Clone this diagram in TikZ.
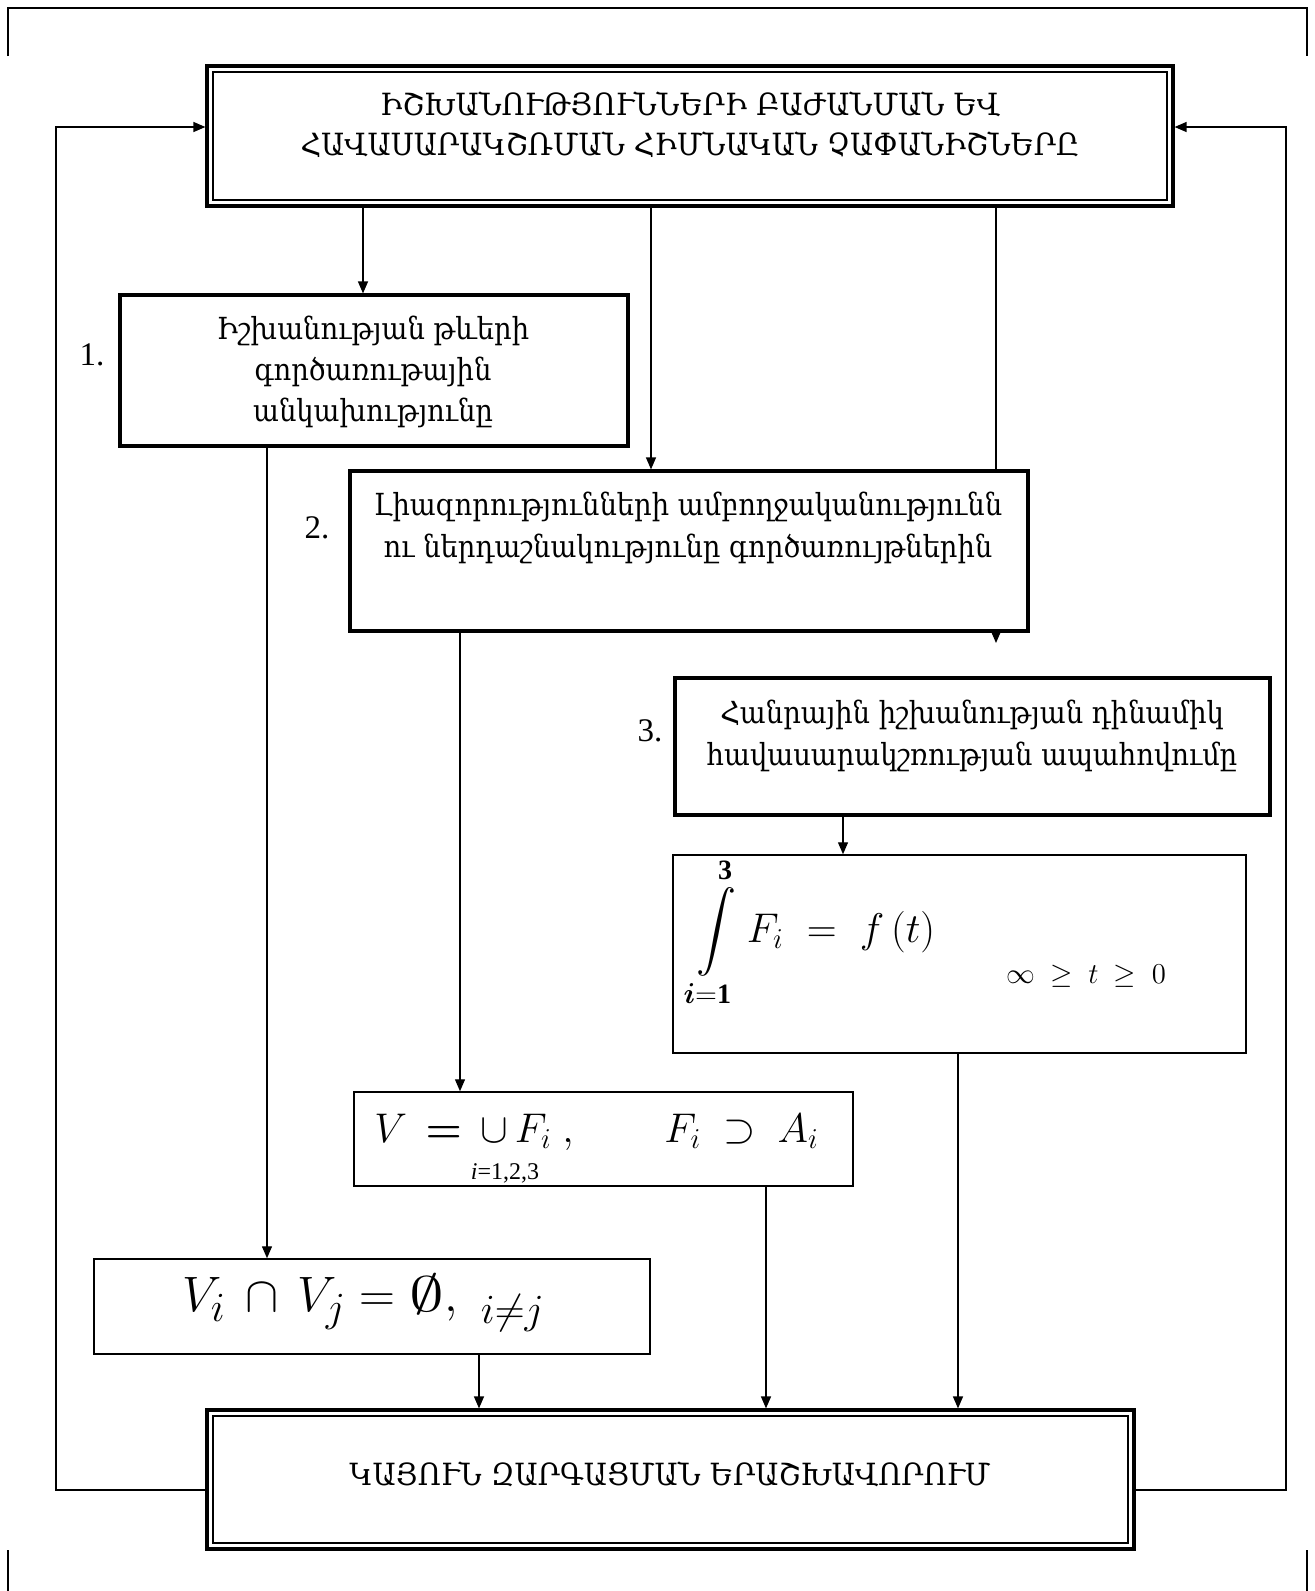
\documentclass[tikz,border=0pt]{standalone}
\usepackage{graphicx}
\usepackage{amsmath,amssymb}
\usepackage{fontspec}
\setmainfont{Liberation Serif}
\newfontfamily\armfont{DejaVu Serif}
\usetikzlibrary{arrows.meta,fit,calc}
\newcommand\hsq[1]{\scalebox{0.9}[1]{#1}}
\newcommand\hsc[1]{\scalebox{0.94}[1]{#1}}
\tikzset{
  thinbox/.style={draw, line width=0.75pt, inner sep=0pt},
  thickbox/.style={draw, line width=1.6pt, inner sep=0pt},
  outerdbl/.style={draw, line width=1.6pt, inner sep=0pt},
  innerdbl/.style={draw, line width=0.9pt, inner sep=0pt},
  conn/.style={line width=0.65pt},
  arr/.style={conn, -{Triangle[length=6pt,width=5pt]}},
  armtxt/.style={font=\armfont\fontsize{15.2}{20.6}\selectfont, align=center, inner sep=0pt},
  capstxt/.style={font=\armfont\fontsize{15.3}{20}\selectfont, align=center, inner sep=0pt},
  numtxt/.style={font=\fontsize{16.5}{18}\selectfont, inner sep=0pt},
}
\begin{document}
\begin{tikzpicture}[x=0.5pt,y=-0.5pt]
\useasboundingbox (0,0) rectangle (1315,1591);
% frame marks
\draw[line width=1pt] (8,56) -- (8,8) -- (1307,8) -- (1307,56);
\draw[conn] (8,1550) -- (8,1591);
\draw[conn] (1307,1550) -- (1307,1591);

% top box
\node[outerdbl, fit={(207,66) (1173,206)}] (top) {};
\node[innerdbl, fit={(213,72) (1167,200)}] (topin) {};
\node[capstxt] (toptxt) at (690,125) {\hsc{ԻՇԽԱՆՈՒԹՅՈՒՆՆԵՐԻ ԲԱԺԱՆՄԱՆ ԵՎ}\\\hsc{ՀԱՎԱՍԱՐԱԿՇՌՄԱՆ ՀԻՄՆԱԿԱՆ ՉԱՓԱՆԻՇՆԵՐԸ}};

% box 1
\node[thickbox, fit={(120,295) (628,446)}] (b1) {};
\node[armtxt] (b1txt) at (373,372) {\hsq{Իշխանության թևերի}\\\hsq{գործառութային}\\\hsq{անկախությունը}};
\node[numtxt] (n1) at (92,355) {1.};

% box 2
\node[thickbox, fit={(350,471) (1028,631)}] (b2) {};
\node[armtxt] (b2txt) at (688,528) {\hsq{Լիազորությունների ամբողջականությունն}\\\hsq{ու ներդաշնակությունը գործառույթներին}};
\node[numtxt] (n2) at (317,528) {2.};

% box 3
\node[thickbox, fit={(675,678) (1270,815)}] (b3) {};
\node[armtxt] (b3txt) at (972,736) {\hsq{Հանրային իշխանության դինամիկ}\\\hsq{հավասարակշռության ապահովումը}};
\node[numtxt] (n3) at (650,731) {3.};

% box 4: integral
\node[thinbox, fit={(673,855) (1246,1053)}] (b4) {};
\node[inner sep=0pt, anchor=west, font=\fontsize{20}{24}\selectfont] (intf) at (692,932)
  {$\displaystyle\int\limits_{\boldsymbol{i}\mathbf{=1}}^{\mathbf{3}} F_i \;=\; f\,(t)$};
\node[inner sep=0pt, font=\fontsize{15}{18}\selectfont] (ineq) at (1086,976) {$\infty\ \geq\ t\ \geq\ 0$};

% box 5: union
\node[thinbox, fit={(354,1092) (853,1186)}] (b5) {};
\node[inner sep=0pt, anchor=west, font=\fontsize{21}{25}\selectfont] (unf) at (374,1132)
  {$V \,\boldsymbol{=}\, \cup\, F_i\ ,\qquad F_i\ \supset\ A_i$};
\node[inner sep=0pt, font=\fontsize{12}{14}\selectfont] (unsub) at (505,1173) {\textit{i}=1,2,3};

% box 6: intersection
\node[inner sep=0pt, anchor=west, font=\fontsize{30}{33}\selectfont] (isf) at (182,1303)
  {$V_i \,\cap\, V_j = \mathord{\scalebox{1.4}[1]{$\emptyset$}},_{\;\;i\neq j}$};
\node[thinbox, fit={(94,1259) (650,1354)}] (b6) {};

% bottom box
\node[outerdbl, fit={(207,1410) (1134,1549)}] (bot) {};
\node[innerdbl, fit={(213,1416) (1128,1543)}] (botin) {};
\node[capstxt] (bottxt) at (670,1474) {\hsc{ԿԱՅՈՒՆ ԶԱՐԳԱՑՄԱՆ ԵՐԱՇԽԱՎՈՐՈՒՄ}};

% connectors
\draw[arr] (top.south -| 363,0) -- (b1.north -| 363,0);
\draw[arr] (top.south -| 651,0) -- (b2.north -| 651,0);
\draw[conn] (top.south -| 996,0) -- (b2.north -| 996,0);
\coordinate (stub) at (996,643);
\draw[arr] (b2.south -| 996,0) -- (stub);
\draw[arr] (b1.south -| 267,0) -- (b6.north -| 267,0);
\draw[arr] (b2.south -| 460,0) -- (b5.north -| 460,0);
\draw[arr] (b3.south -| 843,0) -- (b4.north -| 843,0);
\draw[arr] (b6.south -| 479,0) -- (bot.north -| 479,0);
\draw[arr] (b5.south -| 766,0) -- (bot.north -| 766,0);
\draw[arr] (b4.south -| 958,0) -- (bot.north -| 958,0);
\draw[arr] (bot.west |- 0,1490) -- (56,1490) -- (56,127) -- (top.west |- 0,127);
\draw[arr] (bot.east |- 0,1490) -- (1286,1490) -- (1286,127) -- (top.east |- 0,127);
\end{tikzpicture}
\end{document}
